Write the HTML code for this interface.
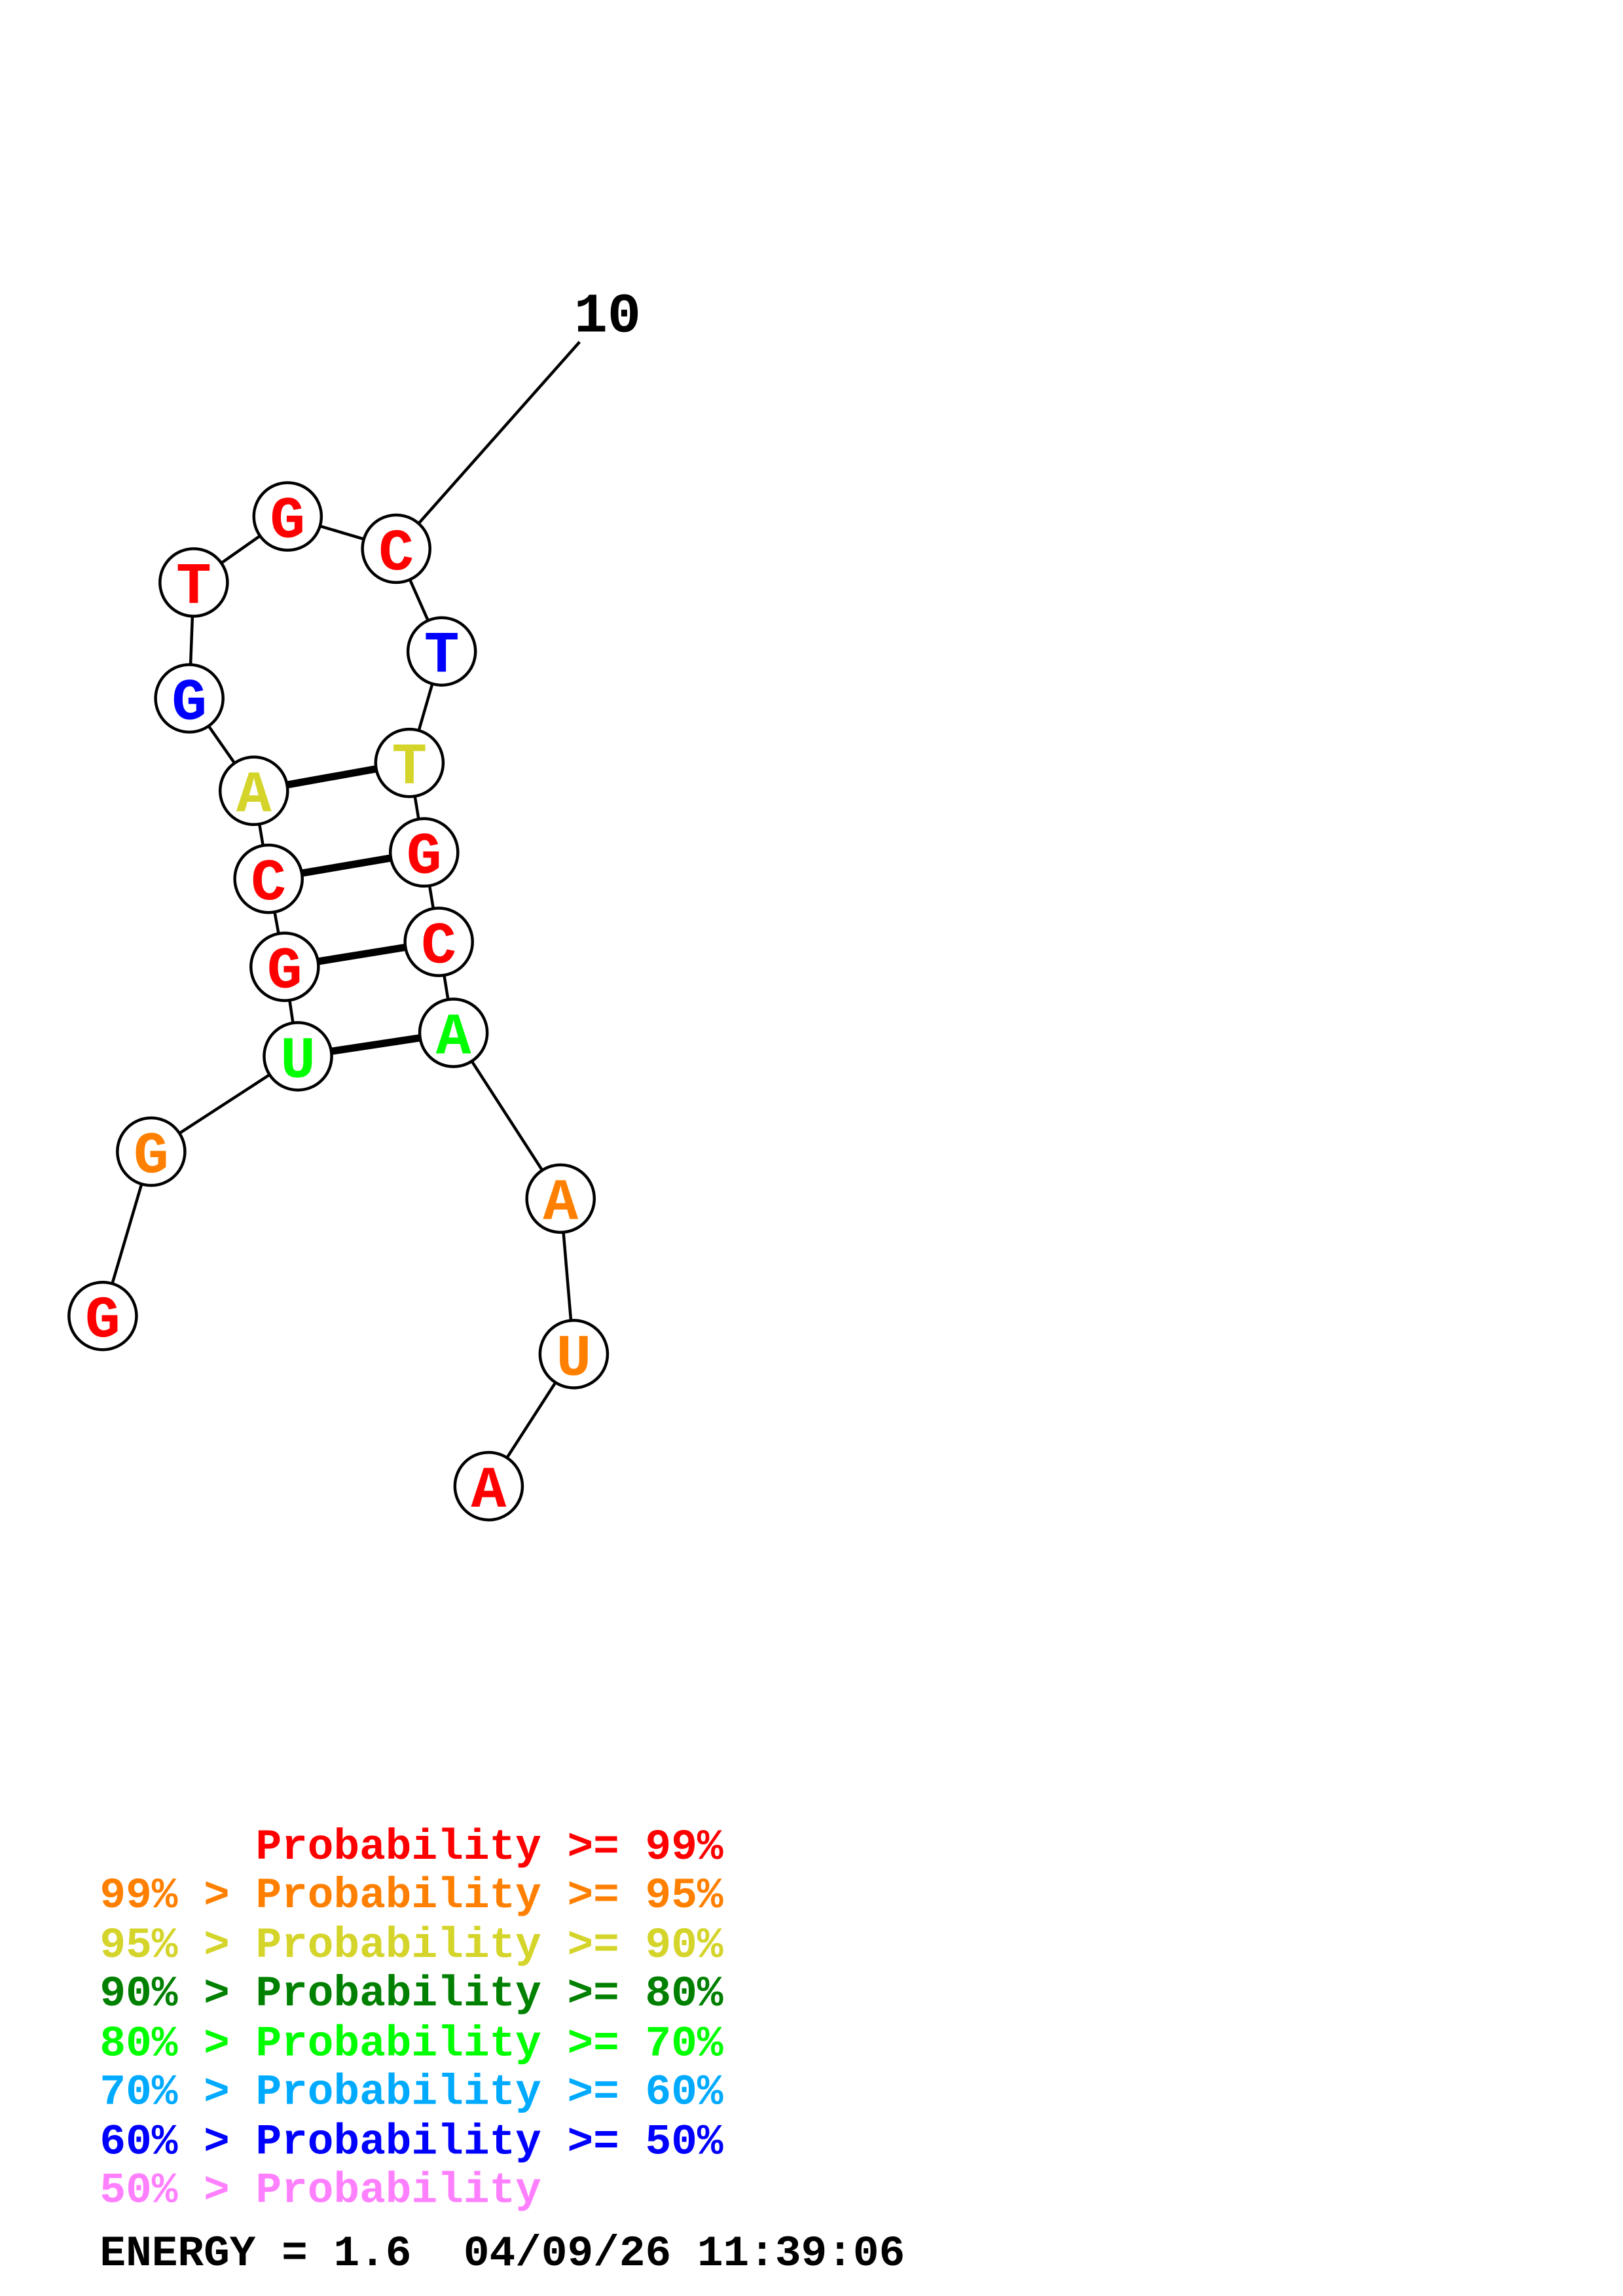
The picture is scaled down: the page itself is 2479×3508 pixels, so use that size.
<!DOCTYPE html>
<html><head><meta charset="utf-8"><style>html,body{margin:0;padding:0;background:#fff}svg{display:block}text{white-space:pre}</style></head>
<body>
<svg width="2479" height="3508" viewBox="0 0 1106 1565" xmlns="http://www.w3.org/2000/svg">
<rect width="1106" height="1565" fill="#fff"/>
<g stroke="#000" stroke-width="2" fill="none">
<polyline points="70,897 103,785 203,720 194,659 183,599 173,539 129,476 132,397 196,352 270,374 301,444 279,520 289,581 299,642 309,704 382,817 391,923 333,1013"/>
<line x1="270" y1="374" x2="395" y2="233"/>
</g>
<g stroke="#000" stroke-width="5">
<line x1="173" y1="539" x2="279" y2="520"/>
<line x1="183" y1="599" x2="289" y2="581"/>
<line x1="194" y1="659" x2="299" y2="642"/>
<line x1="203" y1="720" x2="309" y2="704"/>
</g>
<g stroke="#000" stroke-width="2" fill="#fff">
<circle cx="70" cy="897" r="23"/><circle cx="103" cy="785" r="23"/><circle cx="203" cy="720" r="23"/>
<circle cx="194" cy="659" r="23"/><circle cx="183" cy="599" r="23"/><circle cx="173" cy="539" r="23"/>
<circle cx="129" cy="476" r="23"/><circle cx="132" cy="397" r="23"/><circle cx="196" cy="352" r="23"/>
<circle cx="270" cy="374" r="23"/><circle cx="301" cy="444" r="23"/><circle cx="279" cy="520" r="23"/>
<circle cx="289" cy="581" r="23"/><circle cx="299" cy="642" r="23"/><circle cx="309" cy="704" r="23"/>
<circle cx="382" cy="817" r="23"/><circle cx="391" cy="923" r="23"/><circle cx="333" cy="1013" r="23"/>
</g>
<g font-family="Liberation Mono, monospace" font-weight="bold" font-size="40" text-anchor="middle">
<text x="70" y="911" fill="#f00">G</text>
<text x="103" y="799" fill="#ff8000">G</text>
<text x="203" y="734" fill="#0f0">U</text>
<text x="194" y="673" fill="#f00">G</text>
<text x="183" y="613" fill="#f00">C</text>
<text x="173" y="553" fill="#d4d42a">A</text>
<text x="129" y="490" fill="#00f">G</text>
<text x="132" y="411" fill="#f00">T</text>
<text x="196" y="366" fill="#f00">G</text>
<text x="270" y="388" fill="#f00">C</text>
<text x="301" y="458" fill="#00f">T</text>
<text x="279" y="534" fill="#d4d42a">T</text>
<text x="289" y="595" fill="#f00">G</text>
<text x="299" y="656" fill="#f00">C</text>
<text x="309" y="718" fill="#0f0">A</text>
<text x="382" y="831" fill="#ff8000">A</text>
<text x="391" y="937" fill="#ff8000">U</text>
<text x="333" y="1027" fill="#f00">A</text>
</g>
<text x="414" y="226" font-family="Liberation Mono, monospace" font-weight="bold" font-size="38" text-anchor="middle" fill="#000">10</text>
<g font-family="Liberation Mono, monospace" font-weight="bold" font-size="29.5">
<text x="68" y="1267" fill="#f00">      Probability &gt;= 99%</text>
<text x="68" y="1300" fill="#ff8000">99% &gt; Probability &gt;= 95%</text>
<text x="68" y="1334" fill="#d4d42a">95% &gt; Probability &gt;= 90%</text>
<text x="68" y="1367" fill="#008000">90% &gt; Probability &gt;= 80%</text>
<text x="68" y="1401" fill="#0f0">80% &gt; Probability &gt;= 70%</text>
<text x="68" y="1434" fill="#00aaff">70% &gt; Probability &gt;= 60%</text>
<text x="68" y="1468" fill="#00f">60% &gt; Probability &gt;= 50%</text>
<text x="68" y="1501" fill="#ff80ff">50% &gt; Probability</text>
<text x="68" y="1544" fill="#000">ENERGY = 1.6  04/09/26 11:39:06</text>
</g>
</svg>
</body></html>
